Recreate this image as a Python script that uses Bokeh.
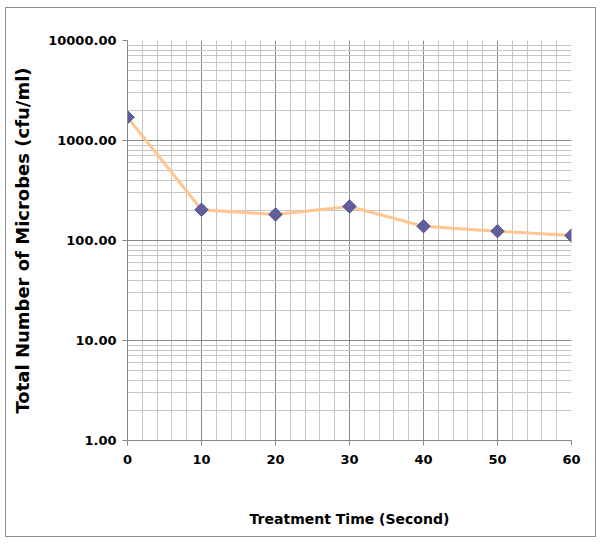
import math
from bokeh.plotting import figure
from bokeh.models import FixedTicker, PrintfTickFormatter, Label, Range1d, InlineStyleSheet
from bokeh.embed import file_html
from bokeh.resources import INLINE

# Data
times = [0, 10, 20, 30, 40, 50, 60]
microbes = [1710, 203, 182, 219, 139, 124, 112]

x_ticks = [0, 10, 20, 30, 40, 50, 60]
x_minor = [v for v in range(0, 61, 2) if v % 10 != 0]
y_ticks = [1, 10, 100, 1000, 10000]
y_minor = [m * d for d in [1, 10, 100, 1000] for m in range(2, 10)]

FONT = "DejaVu Sans"

p = figure(width=610, height=540, y_axis_type="log",
           x_range=Range1d(0, 60), y_range=Range1d(1, 10000),
           output_backend="svg", toolbar_location=None,
           min_border_left=127, min_border_right=39,
           min_border_top=40, min_border_bottom=100)
p.outline_line_color = None
p.background_fill_color = "white"
p.border_fill_color = "white"

p.xaxis.ticker = FixedTicker(ticks=x_ticks, minor_ticks=x_minor)
p.yaxis.ticker = FixedTicker(ticks=y_ticks, minor_ticks=y_minor)
p.yaxis.formatter = PrintfTickFormatter(format="%.2f")

for ax in (p.xaxis, p.yaxis):
    ax.axis_line_color = "#868686"
    ax.major_tick_line_color = "#868686"
    ax.major_tick_out = 5
    ax.major_tick_in = 0
    ax.minor_tick_line_color = None
    ax.major_label_text_font = FONT
    ax.major_label_text_font_style = "bold"
    ax.major_label_text_font_size = "13px"
    ax.major_label_text_color = "black"
    ax.axis_label_text_font = FONT
    ax.axis_label_text_font_style = "bold"
    ax.axis_label_text_color = "black"

p.xaxis.axis_label = "Treatment Time (Second)"
p.xaxis.axis_label_text_font_size = "14px"
p.xaxis.major_label_standoff = 9
p.xaxis.axis_label_standoff = 44

p.yaxis.axis_label = "Total Number of Microbes (cfu/ml)"
p.yaxis.axis_label_text_font_size = "18px"
p.yaxis.major_label_standoff = 6
p.yaxis.axis_label_standoff = 12

p.xgrid.grid_line_color = "#8a8a8a"
p.ygrid.grid_line_color = "#8a8a8a"
p.xgrid.minor_grid_line_color = "#c6c6c6"
p.ygrid.minor_grid_line_color = "#c6c6c6"

p.line(times, microbes, line_color="#FFC690", line_width=3)
p.scatter(times, microbes, marker="square", angle=math.pi / 4, size=9.5,
          fill_color="#5F5F9D", line_color="#55558f")

s_label = Label(x=584, y=532, x_units="canvas", y_units="canvas", text="S",
                text_font="Liberation Serif", text_font_size="13px",
                text_color="black", text_baseline="alphabetic", text_align="left")
p.add_layout(s_label)

p.stylesheets = [InlineStyleSheet(css="""
:host { position: relative; }
:host::after {
  content: '';
  position: absolute;
  left: 5px; top: 7px;
  width: 589px; height: 528px;
  border: 1px solid #8c8c8c;
  box-sizing: content-box;
  pointer-events: none;
}
""")]

open("out.html", "w").write(file_html(p, INLINE))
